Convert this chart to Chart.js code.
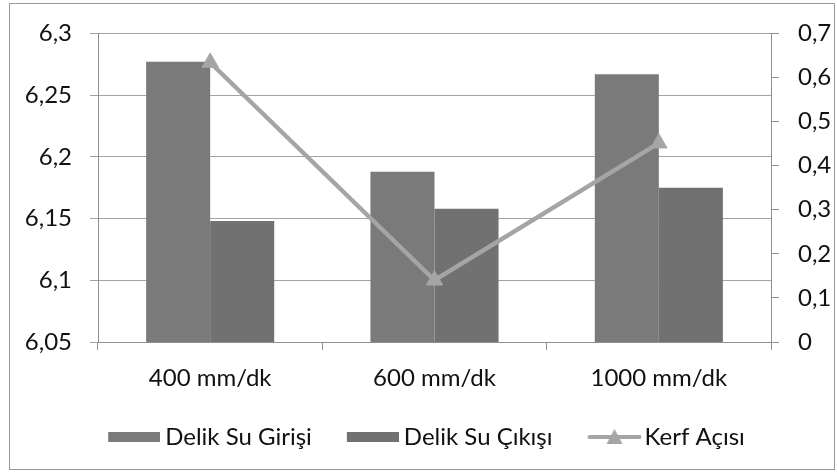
<!DOCTYPE html>
<html>
<head>
<meta charset="utf-8">
<script src="https://cdn.jsdelivr.net/npm/chart.js@4"></script>
<style>
html,body{margin:0;padding:0;background:#fff;}
#wrap{width:837px;height:472px;position:relative;}
</style>
</head>
<body>
<div id="wrap"><canvas id="c" width="837" height="472"></canvas></div>
<script>
const categories = ['400 mm/dk', '600 mm/dk', '1000 mm/dk'];
const seriesNames = ['Delik Su Girişi', 'Delik Su Çıkışı', 'Kerf Açısı'];
const girisValues = [6.277, 6.188, 6.267];
const cikisValues = [6.148, 6.158, 6.175];
const kerfValues = [0.634, 0.140, 0.451];
const leftTicks = [6.05, 6.1, 6.15, 6.2, 6.25, 6.3];
const rightTicks = [0, 0.1, 0.2, 0.3, 0.4, 0.5, 0.6, 0.7];

const colGiris = '#7a7a7a';
const colCikis = '#717171';
const colKerf = '#a5a5a5';
const gridCol = '#a3a3a3';
const axisCol = '#8f8f8f';
const FONT = 'Lato';
const FS = 24;

// legend icons: canvas 59 wide, drawn centered on a 45px slot -> visible part x+0..x+52
function boxIcon(color){
  const c = document.createElement('canvas');
  c.width = 59; c.height = 10;
  const x = c.getContext('2d');
  x.fillStyle = color; x.fillRect(7,0,52,10);
  return c;
}
function lineIcon(color){
  const c = document.createElement('canvas');
  c.width = 61; c.height = 18;
  const x = c.getContext('2d');
  x.strokeStyle = color; x.lineWidth = 4; x.lineCap = 'round';
  x.beginPath(); x.moveTo(10,9); x.lineTo(60,9); x.stroke();
  x.fillStyle = color;
  x.beginPath(); x.moveTo(35,1); x.lineTo(43,16); x.lineTo(27,16); x.closePath(); x.fill();
  return c;
}
const icons = [boxIcon(colGiris), boxIcon(colCikis), lineIcon(colKerf)];

function fmt(v){ return String(Math.round(v*1000)/1000).replace('.', ','); }

const framePlugin = {
  id: 'frame',
  afterDraw(chart){
    const ctx = chart.ctx;
    ctx.save();
    ctx.strokeStyle = '#9a9a9a';
    ctx.lineWidth = 1;
    ctx.strokeRect(9.5, 3.5, 825, 466);
    ctx.restore();
  }
};

new Chart(document.getElementById('c'), {
  type: 'bar',
  data: {
    labels: categories,
    datasets: [
      { type:'bar', label: seriesNames[0], data: girisValues, backgroundColor: colGiris, yAxisID:'y', order: 2,
        barPercentage: 1, categoryPercentage: 0.571 },
      { type:'bar', label: seriesNames[1], data: cikisValues, backgroundColor: colCikis, yAxisID:'y', order: 2,
        barPercentage: 1, categoryPercentage: 0.571 },
      { type:'line', label: seriesNames[2], data: kerfValues, borderColor: colKerf, backgroundColor: colKerf,
        borderWidth: 4.5, pointStyle: 'triangle', pointRadius: 9.5, pointBackgroundColor: colKerf,
        pointBorderColor: colKerf, pointBorderWidth: 1, yAxisID:'y2', order: 0, tension: 0 }
    ]
  },
  options: {
    responsive: false,
    animation: false,
    events: [],
    layout: { padding: { left: 16, right: 0, top: 33, bottom: 13 } },
    plugins: {
      tooltip: { enabled: false },
      legend: {
        position: 'bottom',
        labels: {
          usePointStyle: true,
          pointStyleWidth: 45,
          boxHeight: 10,
          padding: 35,
          color: '#111',
          font: { family: FONT, size: FS },
          generateLabels(chart){
            const items = Chart.defaults.plugins.legend.labels.generateLabels(chart);
            items.forEach(it => { it.pointStyle = icons[it.datasetIndex]; });
            return items.sort((a,b) => a.datasetIndex - b.datasetIndex);
          }
        }
      }
    },
    scales: {
      x: {
        offset: true,
        grid: { offset: true, drawOnChartArea: false, drawTicks: true, tickLength: 8, color: axisCol },
        border: { color: axisCol },
        ticks: { color: '#111', font: { family: FONT, size: FS }, padding: 14, maxRotation: 0 },
        afterFit(s){ s.height = 48; }
      },
      y: {
        position: 'left',
        min: leftTicks[0], max: leftTicks[leftTicks.length-1],
        afterBuildTicks(s){ s.ticks = leftTicks.map(v => ({value: v})); },
        grid: { color: gridCol, tickLength: 8, drawTicks: true },
        border: { color: axisCol },
        ticks: { color: '#111', font: { family: FONT, size: FS }, padding: 18, callback: v => fmt(v) },
        afterFit(s){ s.width = 82; }
      },
      y2: {
        position: 'right',
        min: rightTicks[0], max: rightTicks[rightTicks.length-1],
        afterBuildTicks(s){ s.ticks = rightTicks.map(v => ({value: v})); },
        grid: { drawOnChartArea: false, color: axisCol, tickLength: 8, drawTicks: true },
        border: { color: axisCol },
        ticks: { color: '#111', font: { family: FONT, size: FS }, padding: 19, callback: v => fmt(v) },
        afterFit(s){ s.width = 66; }
      }
    }
  },
  plugins: [framePlugin]
});
</script>
</body>
</html>
